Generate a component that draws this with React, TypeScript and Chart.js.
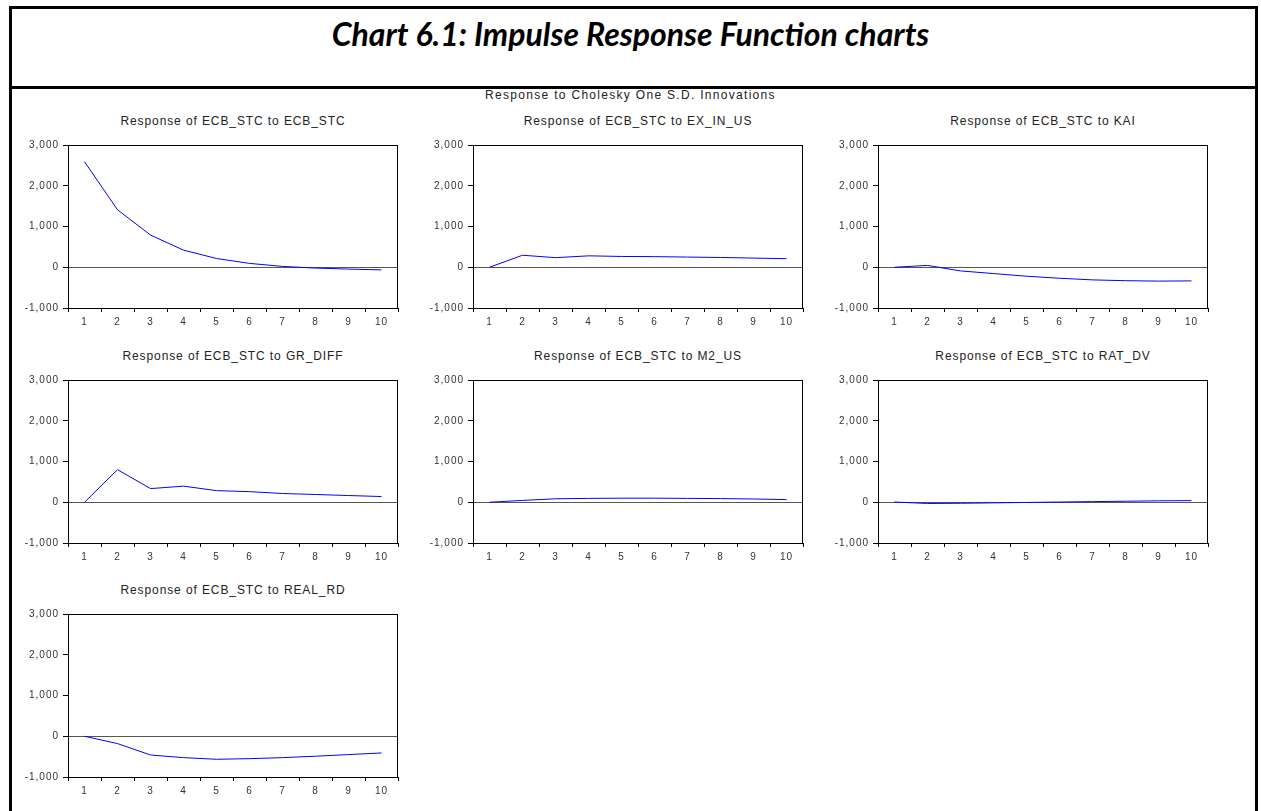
import React, { useEffect, useRef } from "react";
import { Chart, registerables } from "chart.js";

Chart.register(...registerables);

// ---- data ----
const periods = ["1", "2", "3", "4", "5", "6", "7", "8", "9", "10"];
const yTickValues = [-1000, 0, 1000, 2000, 3000];

const respToEcbStc = [2590, 1410, 790, 420, 215, 95, 20, -20, -45, -65];
const respToExInUs = [0, 295, 235, 280, 265, 260, 250, 240, 225, 210];
const respToKai = [0, 45, -90, -155, -220, -270, -310, -330, -340, -335];
const respToGrDiff = [0, 800, 335, 395, 285, 260, 215, 190, 165, 140];
const respToM2Us = [0, 45, 85, 95, 100, 100, 95, 90, 80, 65];
const respToRatDv = [5, -30, -25, -15, -5, 5, 15, 25, 35, 40];
const respToRealRd = [0, -180, -460, -525, -565, -550, -525, -490, -450, -410];

const panelTitles = [
  "Response of ECB_STC to ECB_STC",
  "Response of ECB_STC to EX_IN_US",
  "Response of ECB_STC to KAI",
  "Response of ECB_STC to GR_DIFF",
  "Response of ECB_STC to M2_US",
  "Response of ECB_STC to RAT_DV",
  "Response of ECB_STC to REAL_RD",
];
const panelSeries = [
  respToEcbStc,
  respToExInUs,
  respToKai,
  respToGrDiff,
  respToM2Us,
  respToRatDv,
  respToRealRd,
];

const mainTitle = "Chart 6.1: Impulse Response Function charts";
const subTitle = "Response to Cholesky One S.D. Innovations";

// ---- layout ----
const COL_LEFTS = [68, 473, 878];
const ROW_TOPS = [143, 378, 612];
const PLOT_W = 330;
const PLOT_H = 165;
const AX_W = 60;
const AX_H = 26;
const PAD_T = 8;
const PAD_R = 8;

const TICK_FONT = { family: "'Liberation Sans', Arial, sans-serif", size: 10 };

const framePlugin = {
  id: "frameBox",
  beforeDraw(chart: any) {
    chart.ctx.letterSpacing = "1px";
  },
  afterDraw(chart: any) {
    const { left, top, right, bottom } = chart.chartArea;
    const ctx = chart.ctx;
    ctx.save();
    ctx.strokeStyle = "#000";
    ctx.lineWidth = 1;
    ctx.beginPath();
    ctx.moveTo(Math.round(left), Math.round(top) + 0.5);
    ctx.lineTo(Math.round(right), Math.round(top) + 0.5);
    ctx.moveTo(Math.round(right) - 0.5, Math.round(top));
    ctx.lineTo(Math.round(right) - 0.5, Math.round(bottom));
    ctx.stroke();
    ctx.restore();
  },
};

function Panel({ title, values, left, top }: { title: string; values: number[]; left: number; top: number }) {
  const ref = useRef<HTMLCanvasElement>(null);
  const W = AX_W + PLOT_W + PAD_R;
  const H = PAD_T + PLOT_H + AX_H;

  useEffect(() => {
    const chart = new Chart(ref.current!, {
      type: "line",
      data: {
        labels: periods,
        datasets: [
          {
            data: values,
            borderColor: "#0000ff",
            borderWidth: 1,
            pointRadius: 0,
            tension: 0,
            fill: false,
          },
        ],
      },
      options: {
        responsive: false,
        maintainAspectRatio: false,
        animation: false,
        layout: { padding: { top: PAD_T, right: PAD_R, left: 0, bottom: 0 } },
        plugins: {
          legend: { display: false },
          tooltip: { enabled: false },
          title: { display: false },
        },
        scales: {
          x: {
            type: "category",
            offset: true,
            grid: {
              offset: true,
              drawOnChartArea: false,
              tickLength: 4,
              tickColor: "#000",
              lineWidth: 1,
            },
            border: { color: "#000", width: 1 },
            ticks: {
              font: TICK_FONT,
              color: "#333",
              padding: 4,
              maxRotation: 0,
              autoSkip: false,
            },
            afterFit: (s: any) => {
              s.height = AX_H;
            },
          },
          y: {
            min: -1000,
            max: 3000,
            afterBuildTicks: (s: any) => {
              s.ticks = yTickValues.map((v) => ({ value: v }));
            },
            grid: {
              color: (c: any) => (c.tick && c.tick.value === 0 ? "#555" : "rgba(0,0,0,0)"),
              tickColor: "#000",
              tickLength: 5,
              lineWidth: 1,
            },
            border: { color: "#000", width: 1 },
            ticks: {
              font: TICK_FONT,
              color: "#333",
              padding: 4,
              callback: (v: any) => Number(v).toLocaleString("en-US"),
            },
            afterFit: (s: any) => {
              s.width = AX_W;
            },
          },
        },
      },
      plugins: [framePlugin],
    } as any);
    return () => chart.destroy();
  }, [values]);

  return (
    <>
      <div
        style={{
          position: "absolute",
          left,
          top: top - 29,
          width: PLOT_W,
          textAlign: "center",
          fontFamily: "'Liberation Sans', Arial, sans-serif",
          fontSize: 12,
          letterSpacing: "0.9px",
          lineHeight: "14px",
          color: "#222",
          whiteSpace: "nowrap",
        }}
      >
        {title}
      </div>
      <canvas
        ref={ref}
        width={W}
        height={H}
        style={{ position: "absolute", left: left - AX_W, top: top - PAD_T, width: W, height: H }}
      />
    </>
  );
}

export default function App() {
  return (
    <div
      style={{
        position: "absolute",
        left: 0,
        top: 0,
        width: 1261,
        height: 811,
        overflow: "hidden",
        background: "#fff",
      }}
    >
      {/* outer frame */}
      <div
        style={{
          position: "absolute",
          left: 9,
          top: 6,
          width: 1249,
          height: 900,
          boxSizing: "border-box",
          borderLeft: "3px solid #000",
          borderTop: "3px solid #000",
          borderRight: "3px solid #000",
        }}
      />
      <div style={{ position: "absolute", left: 9, top: 86, width: 1249, height: 3, background: "#000" }} />
      <div
        style={{
          position: "absolute",
          left: 0,
          top: 15,
          width: 1261,
          textAlign: "center",
          fontFamily: "Lato, 'Open Sans', sans-serif",
          fontWeight: 700,
          fontStyle: "italic",
          fontSize: 32,
          lineHeight: "38px",
          color: "#000",
        }}
      >
        {mainTitle}
      </div>
      <div
        style={{
          position: "absolute",
          left: 0,
          top: 88,
          width: 1261,
          textAlign: "center",
          fontFamily: "'Liberation Sans', Arial, sans-serif",
          fontSize: 12,
          letterSpacing: "1.3px",
          lineHeight: "14px",
          color: "#222",
        }}
      >
        {subTitle}
      </div>
      {panelSeries.map((vals, i) => (
        <Panel
          key={i}
          title={panelTitles[i]}
          values={vals}
          left={COL_LEFTS[i % 3]}
          top={ROW_TOPS[Math.floor(i / 3)]}
        />
      ))}
    </div>
  );
}
